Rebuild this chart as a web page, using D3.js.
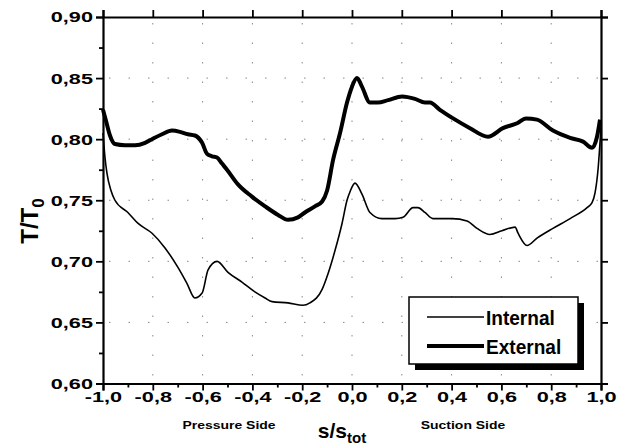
<!DOCTYPE html>
<html>
<head>
<meta charset="utf-8">
<script src="https://cdn.jsdelivr.net/npm/d3@7"></script>
<style>
  html, body { margin: 0; padding: 0; background: #fff; }
  svg { display: block; }
  text { font-family: "Liberation Sans", Arial, sans-serif; font-weight: bold; fill: #000; }
</style>
</head>
<body>
<svg id="chart" width="625" height="448"></svg>
<script>
// Temperature ratio along the blade surface (s/s_tot from pressure side to suction side)
const internalS = [-1.000, -0.992, -0.984, -0.968, -0.952, -0.900, -0.859, -0.803, -0.751, -0.699,
  -0.663, -0.631, -0.602, -0.578, -0.542, -0.498, -0.442, -0.390, -0.349, -0.321, -0.257, -0.197,
  -0.169, -0.120, -0.096, -0.068, -0.040, -0.020, -0.008, 0.012, 0.040, 0.072, 0.120, 0.173, 0.205,
  0.245, 0.265, 0.293, 0.325, 0.402, 0.462, 0.502, 0.554, 0.602, 0.655, 0.667, 0.703, 0.743, 0.807,
  0.876, 0.944, 0.964, 0.976, 0.988, 1.000];
const internalT = [0.805, 0.785, 0.772, 0.758, 0.750, 0.740, 0.731, 0.723, 0.711, 0.695,
  0.682, 0.670, 0.674, 0.693, 0.700, 0.691, 0.683, 0.675, 0.670, 0.667, 0.666, 0.664,
  0.666, 0.677, 0.690, 0.709, 0.731, 0.750, 0.757, 0.764, 0.755, 0.740, 0.735, 0.735, 0.736,
  0.744, 0.744, 0.740, 0.735, 0.735, 0.733, 0.727, 0.722, 0.725, 0.728, 0.723, 0.713, 0.719, 0.727,
  0.735, 0.744, 0.748, 0.756, 0.775, 0.810];

const externalS = [-1.000, -0.988, -0.972, -0.952, -0.912, -0.871, -0.831, -0.803, -0.763, -0.723,
  -0.691, -0.659, -0.631, -0.602, -0.582, -0.562, -0.542, -0.522, -0.502, -0.458, -0.402, -0.349,
  -0.297, -0.257, -0.217, -0.189, -0.149, -0.120, -0.100, -0.076, -0.048, -0.020, 0.000, 0.020,
  0.040, 0.072, 0.104, 0.145, 0.201, 0.253, 0.293, 0.313, 0.353, 0.406, 0.474, 0.546, 0.606, 0.663,
  0.699, 0.743, 0.807, 0.876, 0.928, 0.964, 0.984, 0.996];
const externalT = [0.824, 0.815, 0.803, 0.796, 0.795, 0.795, 0.797, 0.800, 0.804, 0.807,
  0.806, 0.804, 0.803, 0.797, 0.788, 0.786, 0.785, 0.780, 0.775, 0.763, 0.753, 0.745,
  0.738, 0.734, 0.736, 0.740, 0.745, 0.749, 0.758, 0.783, 0.805, 0.830, 0.843, 0.850,
  0.843, 0.830, 0.830, 0.832, 0.835, 0.833, 0.830, 0.830, 0.824, 0.817, 0.809, 0.802, 0.809, 0.813,
  0.817, 0.816, 0.807, 0.801, 0.798, 0.793, 0.802, 0.816];

const xTicks = [-1.0, -0.8, -0.6, -0.4, -0.2, 0.0, 0.2, 0.4, 0.6, 0.8, 1.0];
const xMinorTicks = [-0.9, -0.7, -0.5, -0.3, -0.1, 0.1, 0.3, 0.5, 0.7, 0.9];
const yTicks = [0.60, 0.65, 0.70, 0.75, 0.80, 0.85, 0.90];
const yMinorTicks = [0.625, 0.675, 0.725, 0.775, 0.825, 0.875];
const seriesNames = ["Internal", "External"];

const fmt = v => d3.format(".1f")(v).replace(".", ",").replace("−", "-");
const fmtY = v => d3.format(".2f")(v).replace(".", ",");

const svg = d3.select("#chart");
const plotLeft = 103, plotRight = 601, plotTop = 17, plotBottom = 383.5;
const wide = 1.4;   // horizontal widening of tick-label glyphs

const x = d3.scaleLinear().domain([-1, 1]).range([plotLeft, plotRight]);
const y = d3.scaleLinear().domain([0.60, 0.90]).range([plotBottom, plotTop]);

// sparse dotted grid
const grid = svg.append("g").attr("stroke", "#888").attr("stroke-width", 1)
  .attr("stroke-dasharray", "1.5,18");
grid.selectAll("line.gx").data(xTicks.slice(1, -1)).join("line")
  .attr("x1", d => x(d)).attr("x2", d => x(d)).attr("y1", plotTop + 6).attr("y2", plotBottom);
grid.selectAll("line.gy").data(yTicks.slice(1, -1)).join("line")
  .attr("y1", d => y(d)).attr("y2", d => y(d)).attr("x1", plotLeft + 6).attr("x2", plotRight);

// axes
svg.append("g").attr("class", "xaxis").attr("transform", `translate(0,${plotBottom})`)
  .call(d3.axisBottom(x).tickValues(xTicks).tickFormat(fmt).tickSize(7).tickPadding(0.5));
svg.append("g").attr("transform", `translate(0,${plotBottom})`)
  .call(d3.axisBottom(x).tickValues(xMinorTicks).tickFormat("").tickSize(4))
  .call(g => g.select(".domain").remove());
svg.append("g").attr("transform", `translate(0,${plotTop})`)
  .call(d3.axisTop(x).tickValues(xTicks).tickFormat("").tickSize(7));
svg.append("g").attr("class", "yaxis").attr("transform", `translate(${plotLeft},0)`)
  .call(d3.axisLeft(y).tickValues(yTicks).tickFormat(fmtY).tickSize(7).tickPadding(3));
svg.append("g").attr("transform", `translate(${plotLeft},0)`)
  .call(d3.axisLeft(y).tickValues(yMinorTicks).tickFormat("").tickSize(4))
  .call(g => g.select(".domain").remove());
svg.append("g").attr("transform", `translate(${plotRight},0)`)
  .call(d3.axisRight(y).tickValues(yTicks).tickFormat("").tickSize(7));

svg.selectAll(".domain").attr("stroke", "#000").attr("stroke-width", 2.2);
svg.selectAll(".tick line").attr("stroke", "#000").attr("stroke-width", 1.8);
svg.selectAll(".tick text").style("font-size", "15.5px")
  .style("font-family", "'Liberation Sans', Arial, sans-serif").style("font-weight", "bold")
  .attr("fill", "#000");
svg.selectAll(".xaxis .tick text").attr("transform", `scale(${wide},1)`);
svg.selectAll(".yaxis .tick text").attr("x", -10 / wide).attr("transform", `scale(${wide},1)`);

// curves
const line = d3.line().curve(d3.curveMonotoneX)
  .x(d => x(d[0])).y(d => y(d[1]));
const internalData = internalS.map((s, i) => [s, internalT[i]]);
const externalData = externalS.map((s, i) => [s, externalT[i]]);

svg.append("path").datum(internalData).attr("d", line)
  .attr("fill", "none").attr("stroke", "#000").attr("stroke-width", 1.6);
svg.append("path").datum(externalData).attr("d", line)
  .attr("fill", "none").attr("stroke", "#000").attr("stroke-width", 4)
  .attr("stroke-linejoin", "round");

// axis titles
const yt = svg.append("text").attr("transform", "translate(38,221) rotate(-90)")
  .attr("text-anchor", "middle").style("font-size", "24px");
yt.append("tspan").text("T/T");
yt.append("tspan").text("0").style("font-size", "17px").attr("dy", 6);

const xt = svg.append("text").attr("x", 342).attr("y", 438)
  .attr("text-anchor", "middle").style("font-size", "21px");
xt.append("tspan").text("s/s");
xt.append("tspan").text("tot").style("font-size", "15px").attr("dy", 5);

svg.append("text").attr("transform", "translate(229,429) scale(1.27,1)").attr("text-anchor", "middle")
  .style("font-size", "11px").text("Pressure Side");
svg.append("text").attr("transform", "translate(463,429) scale(1.27,1)").attr("text-anchor", "middle")
  .style("font-size", "11px").text("Suction Side");

// legend with drop shadow
const lg = svg.append("g");
lg.append("rect").attr("x", 415).attr("y", 303).attr("width", 169).attr("height", 67).attr("fill", "#000");
lg.append("rect").attr("x", 409).attr("y", 297).attr("width", 169).attr("height", 67)
  .attr("fill", "#fff").attr("stroke", "#000").attr("stroke-width", 1.5);
const widths = [1.6, 4];
seriesNames.forEach((name, i) => {
  const ly = 317 + i * 29;
  lg.append("line").attr("x1", 427).attr("x2", 484).attr("y1", ly).attr("y2", ly)
    .attr("stroke", "#000").attr("stroke-width", widths[i]);
  lg.append("text").attr("transform", `translate(486,${ly + 7.5}) scale(0.93,1)`)
    .style("font-size", "20.5px").text(name);
});
</script>
</body>
</html>
